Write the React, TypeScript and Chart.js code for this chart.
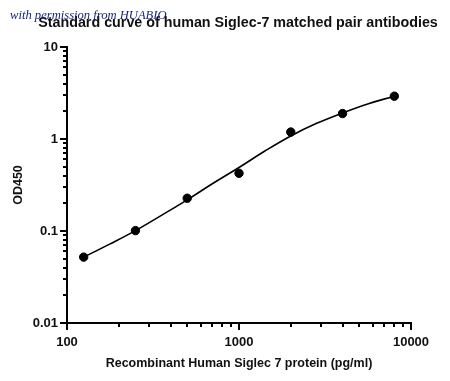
import React, { useEffect, useRef } from "react";
import { Chart, registerables } from "chart.js";

Chart.register(...registerables);

const concentrations = [125, 250, 500, 1000, 2000, 4000, 8000];
const odValues = [0.052, 0.101, 0.227, 0.424, 1.19, 1.89, 2.92];

const curveX = [125, 177, 250, 354, 500, 707, 1000, 1414, 2000, 2828, 4000, 5657, 8000];
const curveY = [0.052, 0.072, 0.101, 0.148, 0.218, 0.33, 0.49, 0.74, 1.08, 1.48, 1.92, 2.42, 2.92];

const xTicks = [100, 200, 300, 400, 500, 600, 700, 800, 900, 1000, 2000, 3000, 4000, 5000, 6000, 7000, 8000, 9000, 10000];
const xMajor = [100, 1000, 10000];
const yTicks = [0.01, 0.02, 0.03, 0.04, 0.05, 0.06, 0.07, 0.08, 0.09, 0.1, 0.2, 0.3, 0.4, 0.5, 0.6, 0.7, 0.8, 0.9, 1, 2, 3, 4, 5, 6, 7, 8, 9, 10];
const yMajor = [0.01, 0.1, 1, 10];
const yLabels = ["0.01", "0.1", "1", "10"];

const titleText = "Standard curve of human Siglec-7 matched pair antibodies";
const watermarkText = "with permission from HUABIO";
const xTitle = "Recombinant Human Siglec 7 protein (pg/ml)";
const yTitle = "OD450";

const FONT = "'Liberation Sans', Arial, sans-serif";

const tickPlugin = {
  id: "customTicks",
  afterDraw(chart: any) {
    const ctx = chart.ctx;
    const area = chart.chartArea;
    const xs = chart.scales.x;
    const ys = chart.scales.y;
    ctx.save();
    ctx.strokeStyle = "#000";
    ctx.lineWidth = 2;
    ctx.lineCap = "butt";
    xs.ticks.forEach((t: any) => {
      const px = Math.round(xs.getPixelForValue(t.value));
      const len = xMajor.includes(t.value) ? 7 : 4;
      ctx.beginPath();
      ctx.moveTo(px, area.bottom);
      ctx.lineTo(px, area.bottom + len);
      ctx.stroke();
    });
    ys.ticks.forEach((t: any) => {
      const py = Math.round(ys.getPixelForValue(t.value));
      const len = yMajor.some((m) => Math.abs(m - t.value) < 1e-9) ? 7 : 4;
      ctx.beginPath();
      ctx.moveTo(area.left, py);
      ctx.lineTo(area.left - len, py);
      ctx.stroke();
    });
    // title
    ctx.fillStyle = "#111";
    ctx.font = `bold 14.3px ${FONT}`;
    ctx.textAlign = "center";
    ctx.textBaseline = "middle";
    ctx.fillText(titleText, 238, 23);
    // watermark
    ctx.fillStyle = "#16247e";
    ctx.font = "italic 12.6px 'Liberation Serif', 'DejaVu Serif', serif";
    ctx.textAlign = "left";
    ctx.fillText(watermarkText, 10, 16);
    ctx.restore();
  },
};

export default function App() {
  const ref = useRef<HTMLCanvasElement | null>(null);
  useEffect(() => {
    if (!ref.current) return;
    const chart = new Chart(ref.current, {
      type: "scatter",
      data: {
        datasets: [
          {
            label: "fit",
            data: curveX.map((x, i) => ({ x, y: curveY[i] })),
            showLine: true,
            borderColor: "#000",
            borderWidth: 1.6,
            pointRadius: 0,
            tension: 0.4,
            fill: false,
          },
          {
            label: "data",
            data: concentrations.map((x, i) => ({ x, y: odValues[i] })),
            showLine: false,
            backgroundColor: "#000",
            borderColor: "#000",
            pointRadius: 4.2,
            pointHoverRadius: 4.2,
          },
        ],
      },
      options: {
        animation: false,
        responsive: false,
        events: [],
        layout: { padding: { left: 0, right: 39, top: 47, bottom: 0 } },
        plugins: {
          legend: { display: false },
          title: { display: false },
          tooltip: { enabled: false },
        },
        scales: {
          x: {
            type: "logarithmic",
            min: 100,
            max: 10000,
            afterBuildTicks: (scale: any) => {
              scale.ticks = xTicks.map((v) => ({ value: v }));
            },
            afterFit: (scale: any) => {
              scale.height = 58;
            },
            grid: { display: false, drawTicks: false },
            border: { display: true, color: "#000", width: 2 },
            ticks: {
              autoSkip: false,
              maxRotation: 0,
              padding: 12,
              color: "#111",
              font: { family: FONT, size: 13, weight: "bold" },
              callback: (v: any) => (xMajor.includes(Number(v)) ? String(v) : ""),
            },
            title: {
              display: true,
              text: xTitle,
              color: "#111",
              font: { family: FONT, size: 12.5, weight: "bold" },
              padding: { top: 0, bottom: 10 },
            },
          },
          y: {
            type: "logarithmic",
            min: 0.01,
            max: 10,
            afterBuildTicks: (scale: any) => {
              scale.ticks = yTicks.map((v) => ({ value: v }));
            },
            afterFit: (scale: any) => {
              scale.width = 67;
            },
            grid: { display: false, drawTicks: false },
            border: { display: true, color: "#000", width: 2 },
            ticks: {
              autoSkip: false,
              padding: 9,
              color: "#111",
              font: { family: FONT, size: 13, weight: "bold" },
              callback: (v: any) => {
                const idx = yMajor.findIndex((m) => Math.abs(m - Number(v)) < 1e-9);
                return idx >= 0 ? yLabels[idx] : "";
              },
            },
            title: {
              display: true,
              text: yTitle,
              color: "#111",
              font: { family: FONT, size: 12.5, weight: "bold" },
              padding: { top: 11, bottom: 0 },
            },
          },
        },
      },
      plugins: [tickPlugin],
    } as any);
    return () => chart.destroy();
  }, []);
  return (
    <div style={{ position: "fixed", left: 0, top: 0, width: 450, height: 381, background: "#fff" }}>
      <canvas ref={ref} width={450} height={381} style={{ width: 450, height: 381 }} />
    </div>
  );
}
